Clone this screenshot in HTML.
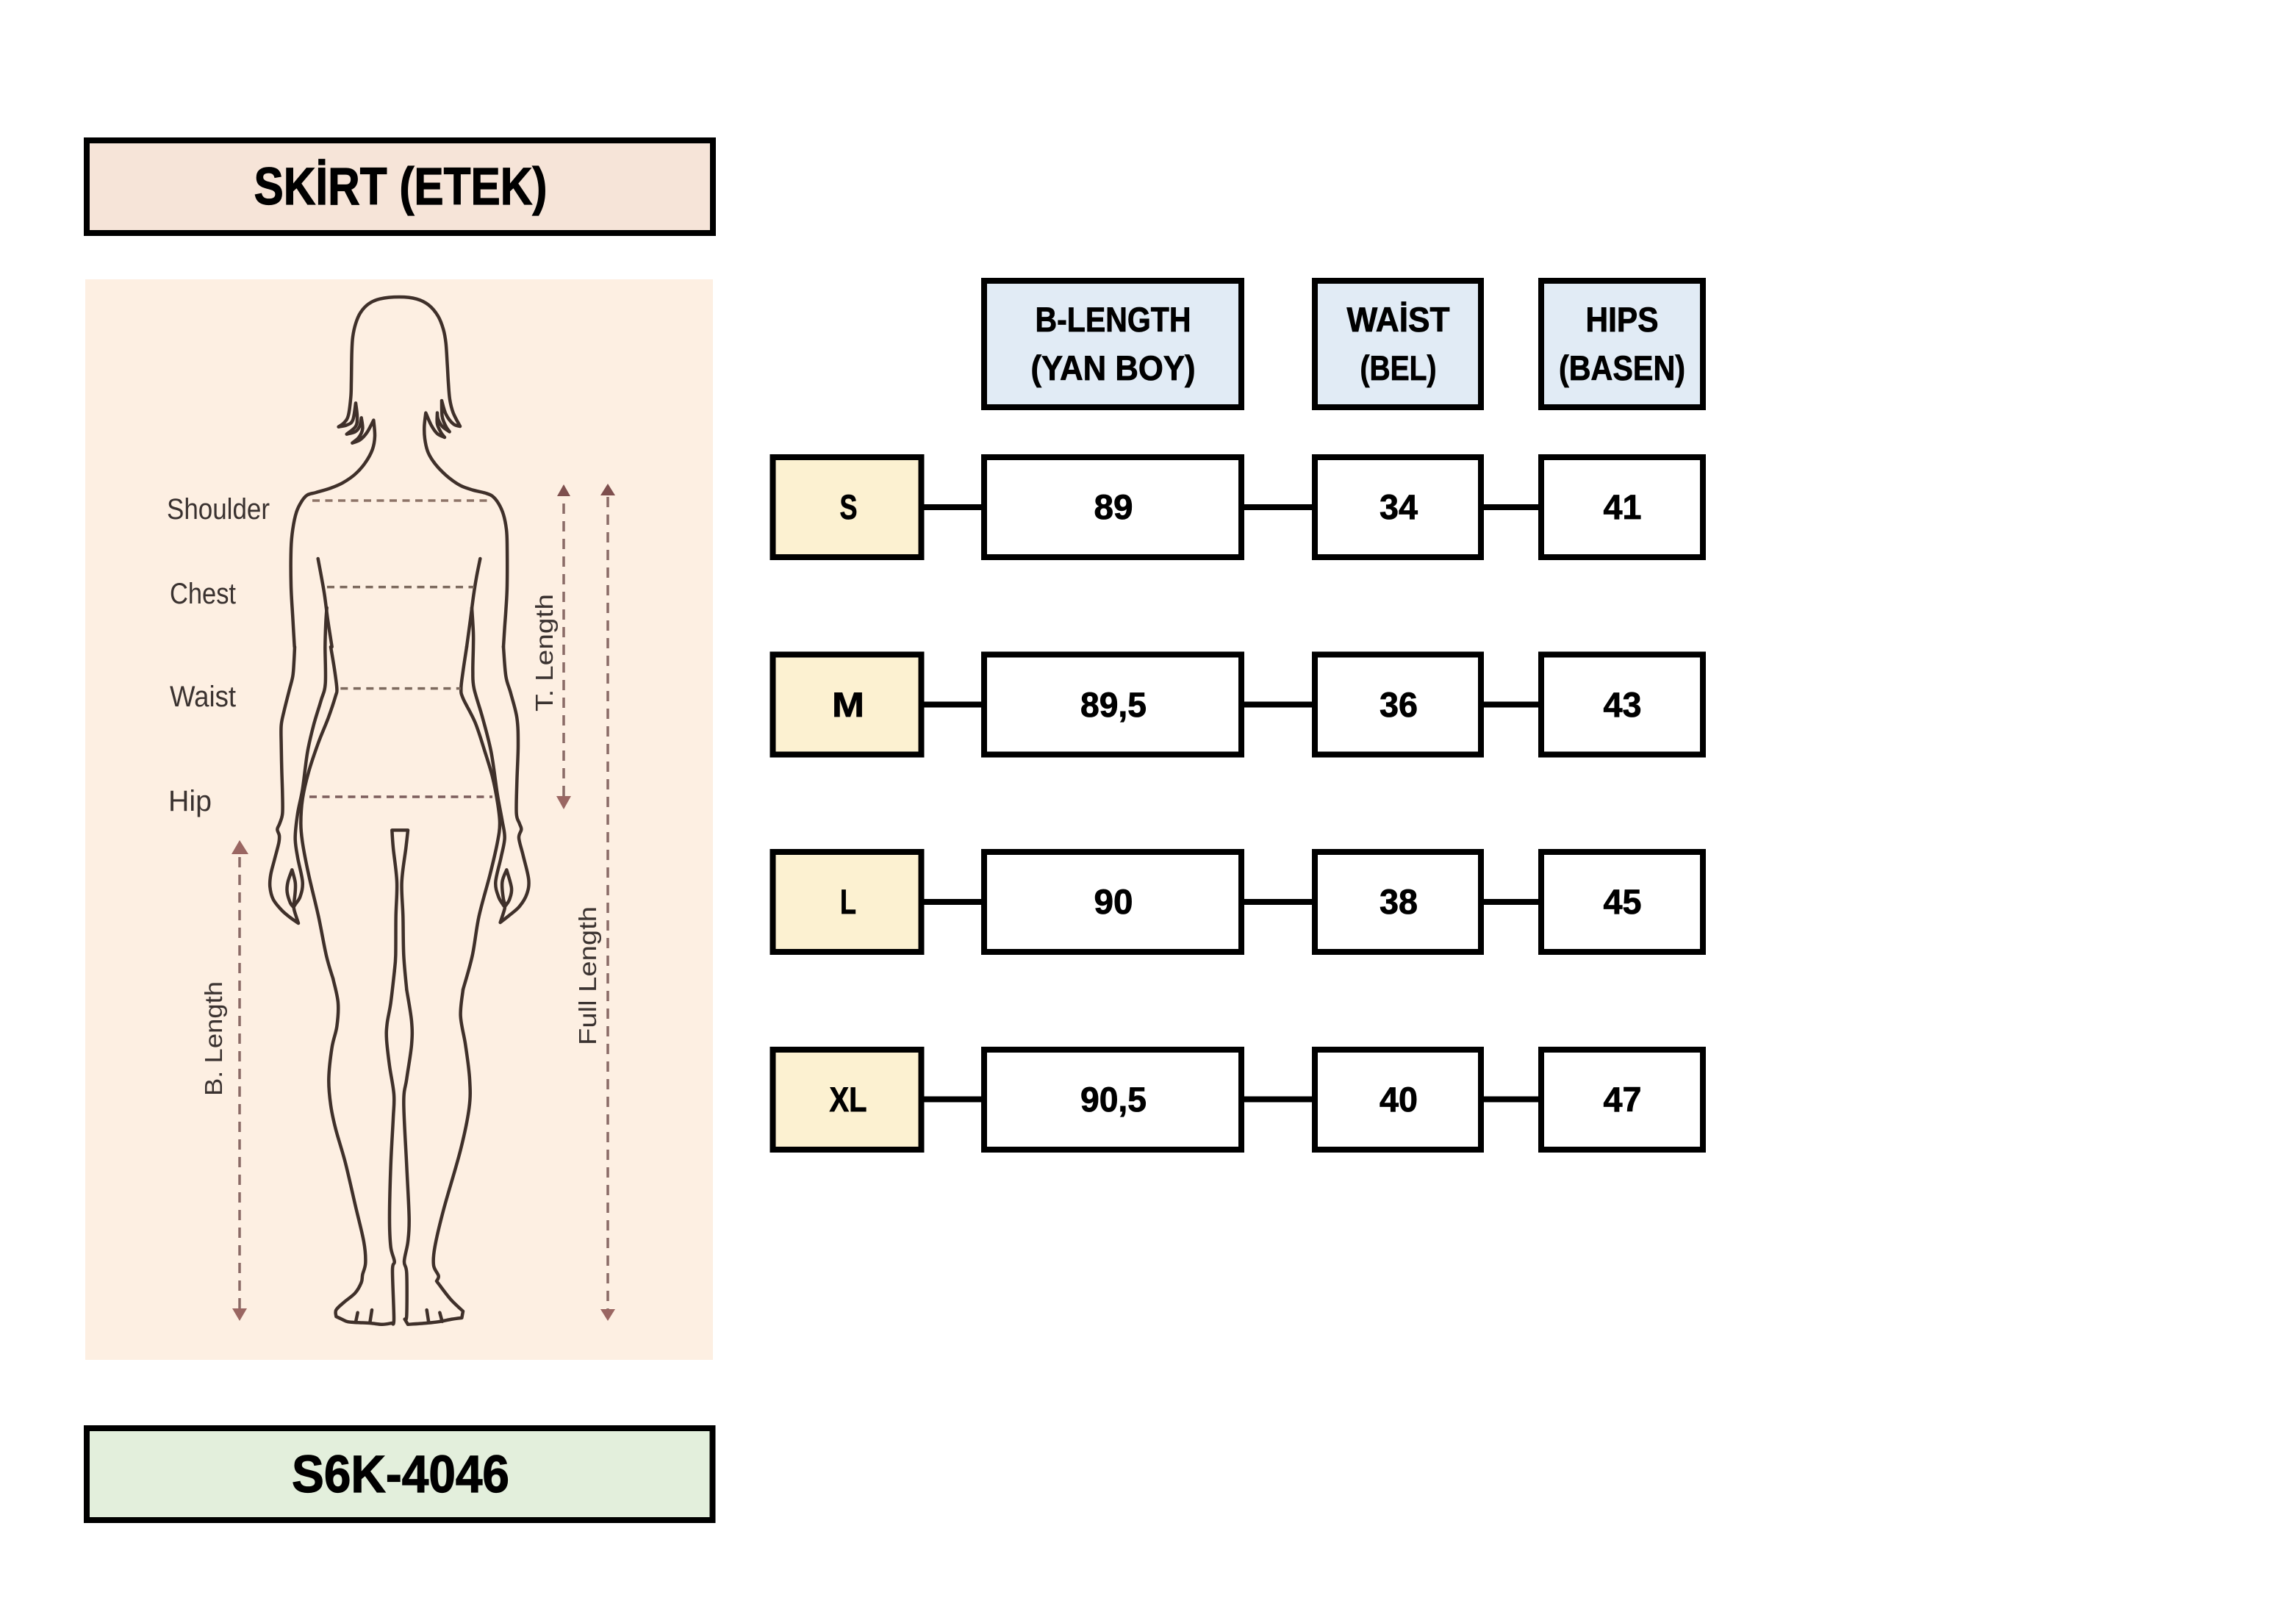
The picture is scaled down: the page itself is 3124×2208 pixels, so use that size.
<!DOCTYPE html>
<html><head><meta charset="utf-8"><style>html,body{margin:0;padding:0;background:#fff}svg{display:block}
.b{font-family:"Liberation Sans",sans-serif;font-weight:bold;fill:#000;stroke:#000;stroke-width:.8px;text-anchor:middle;font-size:47px}
.h{font-size:71px;stroke-width:1.2px}
.l{font-family:"Liberation Sans",sans-serif;fill:#3a3230;font-size:40px}
.t{font-family:"Liberation Sans",sans-serif;fill:#3a3230;font-size:33px}
.o path{fill:none;stroke:#3f302a;stroke-width:4.5;stroke-linejoin:round;stroke-linecap:round;vector-effect:non-scaling-stroke}
.o path.d{stroke-width:3.5;stroke-linecap:butt;stroke-dasharray:10 7.5}
.box{stroke:#000;stroke-width:8}
.c{stroke:#000;stroke-width:8}
</style></head><body>
<svg width="3124" height="2208" viewBox="0 0 3124 2208" xmlns="http://www.w3.org/2000/svg">
<rect width="3124" height="2208" fill="#fff"/>
<rect class="box" x="118" y="191" width="852" height="126" fill="#F6E4D8"/>
<text class="b h" x="545" y="278" textLength="399" lengthAdjust="spacingAndGlyphs">SKİRT (ETEK)</text>
<rect x="116" y="380" width="854" height="1470" fill="#FDEFE2"/>
<rect class="box" x="118" y="1943" width="851.500" height="125" fill="#E3EFDC"/>
<text class="b h" x="545" y="2030" textLength="296" lengthAdjust="spacingAndGlyphs">S6K-4046</text>

<g class="o" transform="translate(340,380) scale(.33333)">
<path d="M362 602L385 585L402 555L412 480L414 420L416 300L420 235L432 180L452 135L485 100L530 80L610 72L680 80L730 105L768 150L790 205L800 260L806 350L810 420L816 490L830 545L858 600L830 590L800 550L783 495L785 560L800 600L815 622L785 600L768 570L765 545L765 590L780 625L795 645L765 630L740 595L718 545L712 600L714 650L725 700L745 738L775 775L815 812L860 842L910 860L960 872L990 885L1015 915L1035 960L1047 1020L1050 1080L1050 1250L1045 1350L1040 1420L1035 1500"/>
<path d="M362 602L395 595L420 575L432 505L438 560L432 600L395 632L430 622L448 600L455 565L460 610L445 645L418 668L450 655L478 625L505 575L510 640L500 695L470 750L430 795L380 830L330 852L270 870L235 880L212 905L190 950L175 1020L168 1100L168 1250L175 1380L182 1500"/>
<path d="M278 1140L292 1215L305 1290L318 1390L335 1500"/>
<path d="M940 1140L925 1215L913 1290L900 1390L885 1500"/>
<path class="d" d="M255 903L968 903" style="stroke:#8d7468"/>
<path class="d" d="M315 1256L915 1256" style="stroke:#7d6a5e"/>
</g>

<g class="o" transform="translate(340,880) scale(.33333)">
<path d="M183 0L180 60L175 120L160 180L140 260L128 320L128 400L130 500L133 600L133 680L122 720L112 745L120 770L118 800L100 870L85 930L82 980L95 1030L130 1075L165 1105L198 1128L180 1070L185 1052L205 1020L215 960L195 860L185 780L195 680L215 580L235 430L260 320L290 220L308 150L307 0L310 -100L314 -160"/>
<path d="M172 910L155 960L152 1000L165 1045L178 1062L185 1000L185 960Z"/>
<path d="M330 0L345 90L355 170L350 200L320 290L280 390L240 510L215 620L208 720L215 800L240 930L280 1100L312 1260L340 1356"/>
<path d="M885 0L870 100L862 170L870 210L920 310L960 430L990 530L1010 630L1020 720L1010 800L980 930L935 1100L908 1260L870 1399"/>
<path d="M906 -160L912 -60L912 0L910 100L915 170L950 290L985 430L1010 600L1030 710L1040 780L1025 860L1003 960L1015 1020L1035 1055L1040 1068L1022 1125L1060 1095L1100 1060L1130 1010L1138 950L1115 850L1098 780L1108 745L1100 720L1088 680L1090 550L1095 400L1090 290L1065 190L1045 120L1035 0"/>
<path d="M1048 910L1030 960L1035 1030L1045 1055L1060 1030L1068 985Z"/>
<path d="M590 1323L595 1260L596 1100L600 960L585 820L580 748L645 748L637 820L620 960L625 1100L628 1260L640 1399"/>
<path class="d" d="M370 170L860 170" style="stroke:#7d6a5e"/>
<path class="d" d="M243 612L990 612" style="stroke:#7d5e5c"/>
</g>

<g class="o" transform="translate(340,1300) scale(.33333,.35714)">
<path d="M340 90L360 180L355 270L335 350L322 470L330 570L350 660L390 790L430 950L465 1090L472 1170L460 1215L455 1245L430 1285L385 1320L352 1350L352 1375L375 1385L400 1395L440 1398L490 1400L540 1405L580 1400L588 1385L582 1200L590 1165L575 1110L570 1000L575 800L585 620L588 530L570 420L558 320L560 260L575 180L590 60"/>
<path d="M640 130L660 250L660 340L640 470L628 560L640 800L650 1000L645 1090L630 1165L640 1210L640 1370L632 1385L645 1405L720 1400L770 1395L825 1385L865 1380L870 1355L820 1310L770 1250L762 1240L770 1220L750 1180L755 1110L790 970L860 740L895 580L897 470L880 340L860 230L870 130"/>
<path d="M440 1360L432 1396M498 1350L490 1398M722 1350L730 1398M775 1360L785 1394"/>
</g>

<g fill="none" stroke="#8a6a66" stroke-width="3.500" stroke-dasharray="14 10">
<path d="M767 685V1083"/>
<path d="M827 676V1782"/>
<path d="M326 1166V1780"/>
</g>
<g fill="#7e4f4e">
<path d="M767 659L776 675H758Z"/>
<path d="M757 1083H777L767 1101Z" fill="#9a6662"/>
<path d="M827 658L837 674H817Z"/>
<path d="M817 1781H837L827 1797Z" fill="#9a6662"/>
<path d="M326 1143L338 1162H315Z" fill="#9a6662"/>
<path d="M316 1780H336L326 1797Z" fill="#9a6662"/>
</g>

<text class="l" x="227" y="706" textLength="140" lengthAdjust="spacingAndGlyphs">Shoulder</text>
<text class="l" x="231" y="821" textLength="90" lengthAdjust="spacingAndGlyphs">Chest</text>
<text class="l" x="231" y="961" textLength="90" lengthAdjust="spacingAndGlyphs">Waist</text>
<text class="l" x="229" y="1103" textLength="59" lengthAdjust="spacingAndGlyphs">Hip</text>
<text class="t" transform="translate(752,968) rotate(-90)" textLength="160" lengthAdjust="spacingAndGlyphs">T. Length</text>
<text class="t" transform="translate(811,1422) rotate(-90)" textLength="189" lengthAdjust="spacingAndGlyphs">Full Length</text>
<text class="t" transform="translate(302,1491) rotate(-90)" textLength="156" lengthAdjust="spacingAndGlyphs">B. Length</text>

<rect class="box" x="1339" y="382" width="350" height="172" fill="#E1EBF5"/>
<rect class="box" x="1789" y="382" width="226" height="172" fill="#E1EBF5"/>
<rect class="box" x="2097" y="382" width="220" height="172" fill="#E1EBF5"/>
<text class="b" x="1514.500" y="451" textLength="212" lengthAdjust="spacingAndGlyphs">B-LENGTH</text>
<text class="b" x="1514.500" y="517" textLength="224" lengthAdjust="spacingAndGlyphs">(YAN BOY)</text>
<text class="b" x="1902.500" y="451" textLength="140" lengthAdjust="spacingAndGlyphs">WAİST</text>
<text class="b" x="1902.500" y="517" textLength="104" lengthAdjust="spacingAndGlyphs">(BEL)</text>
<text class="b" x="2207" y="451" textLength="99" lengthAdjust="spacingAndGlyphs">HIPS</text>
<text class="b" x="2207" y="517" textLength="172" lengthAdjust="spacingAndGlyphs">(BASEN)</text>

<path class="c" d="M1257 690H1335M1693 690H1785M2019 690H2093M1257 958.500H1335M1693 958.500H1785M2019 958.500H2093M1257 1227H1335M1693 1227H1785M2019 1227H2093M1257 1495.500H1335M1693 1495.500H1785M2019 1495.500H2093"/>
<rect class="box" x="1051.500" y="622" width="202" height="136" fill="#FCF1D1"/>
<rect class="box" x="1339" y="622" width="350" height="136" fill="#fff"/>
<rect class="box" x="1789" y="622" width="226" height="136" fill="#fff"/>
<rect class="box" x="2097" y="622" width="220" height="136" fill="#fff"/>
<rect class="box" x="1051.500" y="890.500" width="202" height="136" fill="#FCF1D1"/>
<rect class="box" x="1339" y="890.500" width="350" height="136" fill="#fff"/>
<rect class="box" x="1789" y="890.500" width="226" height="136" fill="#fff"/>
<rect class="box" x="2097" y="890.500" width="220" height="136" fill="#fff"/>
<rect class="box" x="1051.500" y="1159" width="202" height="136" fill="#FCF1D1"/>
<rect class="box" x="1339" y="1159" width="350" height="136" fill="#fff"/>
<rect class="box" x="1789" y="1159" width="226" height="136" fill="#fff"/>
<rect class="box" x="2097" y="1159" width="220" height="136" fill="#fff"/>
<rect class="box" x="1051.500" y="1428" width="202" height="136" fill="#FCF1D1"/>
<rect class="box" x="1339" y="1428" width="350" height="136" fill="#fff"/>
<rect class="box" x="1789" y="1428" width="226" height="136" fill="#fff"/>
<rect class="box" x="2097" y="1428" width="220" height="136" fill="#fff"/>

<text class="b" x="1154.500" y="706" textLength="24" lengthAdjust="spacingAndGlyphs">S</text>
<text class="b" x="1515" y="706" textLength="53" lengthAdjust="spacingAndGlyphs">89</text>
<text class="b" x="1903" y="706" textLength="52" lengthAdjust="spacingAndGlyphs">34</text>
<text class="b" x="2207.500" y="706" textLength="52" lengthAdjust="spacingAndGlyphs">41</text>
<text class="b" x="1154" y="975" textLength="44" lengthAdjust="spacingAndGlyphs">M</text>
<text class="b" x="1515" y="975" textLength="90" lengthAdjust="spacingAndGlyphs">89,5</text>
<text class="b" x="1903" y="975" textLength="52" lengthAdjust="spacingAndGlyphs">36</text>
<text class="b" x="2207.500" y="975" textLength="52" lengthAdjust="spacingAndGlyphs">43</text>
<text class="b" x="1154" y="1243" textLength="22" lengthAdjust="spacingAndGlyphs">L</text>
<text class="b" x="1515" y="1243" textLength="53" lengthAdjust="spacingAndGlyphs">90</text>
<text class="b" x="1903" y="1243" textLength="52" lengthAdjust="spacingAndGlyphs">38</text>
<text class="b" x="2207.500" y="1243" textLength="52" lengthAdjust="spacingAndGlyphs">45</text>
<text class="b" x="1154" y="1512" textLength="51" lengthAdjust="spacingAndGlyphs">XL</text>
<text class="b" x="1515" y="1512" textLength="90" lengthAdjust="spacingAndGlyphs">90,5</text>
<text class="b" x="1903" y="1512" textLength="52" lengthAdjust="spacingAndGlyphs">40</text>
<text class="b" x="2207.500" y="1512" textLength="52" lengthAdjust="spacingAndGlyphs">47</text>
</svg>
<script>
document.querySelectorAll('.o path:not(.d)').forEach(function(el){
var out='';
el.getAttribute('d').split('M').forEach(function(sub){
if(!sub.trim())return;
var closed=/Z\s*$/.test(sub);
var pts=sub.replace('Z','').split('L').map(function(s){var a=s.trim().split(/\s+/);return[+a[0],+a[1]]});
if(closed)pts.push(pts[0]);
out+='M'+pts[0][0]+' '+pts[0][1];
function corner(i){
if(i<=0||i>=pts.length-1)return true;
var a=pts[i],b=pts[i-1],c=pts[i+1];
var u=Math.atan2(a[1]-b[1],a[0]-b[0]),v=Math.atan2(c[1]-a[1],c[0]-a[0]);
var d=Math.abs(u-v);if(d>Math.PI)d=2*Math.PI-d;
return d>0.95;}
for(var i=0;i<pts.length-1;i++){
var p=pts[i],q=pts[i+1],pp=corner(i)?p:pts[i-1],qq=corner(i+1)?q:pts[i+2];
var c1=[p[0]+(q[0]-pp[0])/6,p[1]+(q[1]-pp[1])/6],c2=[q[0]-(qq[0]-p[0])/6,q[1]-(qq[1]-p[1])/6];
out+='C'+c1[0].toFixed(1)+' '+c1[1].toFixed(1)+' '+c2[0].toFixed(1)+' '+c2[1].toFixed(1)+' '+q[0]+' '+q[1];}
if(closed)out+='Z';
});
el.setAttribute('d',out);
});
</script>
</body></html>
